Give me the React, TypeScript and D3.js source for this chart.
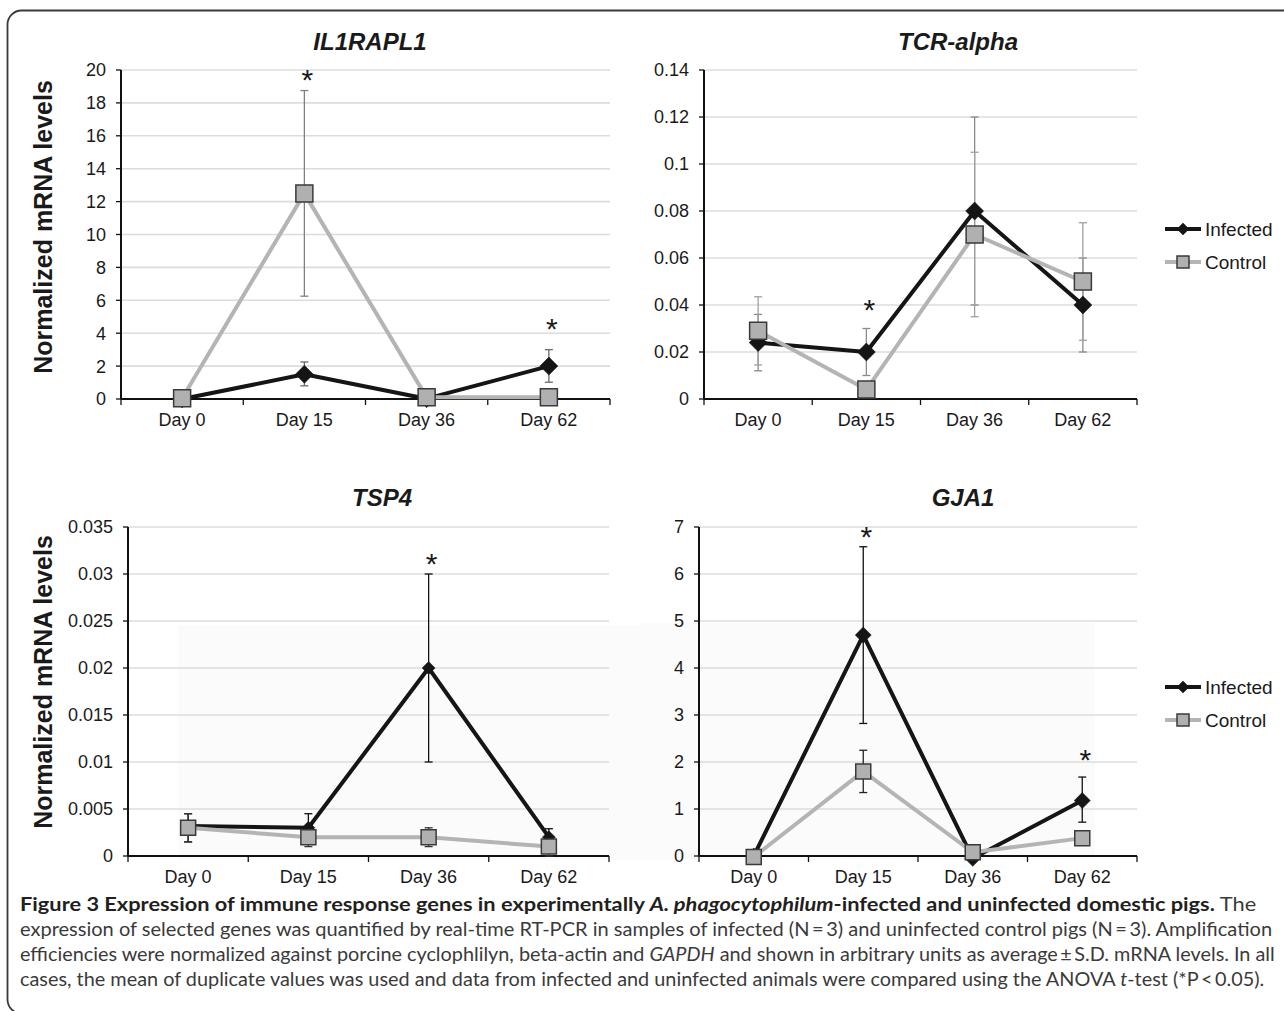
import React, { useLayoutEffect, useRef, useState } from 'react';
import * as d3 from 'd3';

// ---------- data ----------
const days = ['Day 0', 'Day 15', 'Day 36', 'Day 62'];
const seriesNames = ['Infected', 'Control'];

// IL1RAPL1
const il1Infected = [0, 1.5, 0.02, 2.0];
const il1InfectedLo = [0, 0.8, 0.02, 1.02];
const il1InfectedHi = [0, 2.25, 0.02, 3.0];
const il1Control = [0.05, 12.5, 0.1, 0.1];
const il1ControlLo = [0.05, 6.25, 0.1, 0.1];
const il1ControlHi = [0.05, 18.75, 0.1, 0.1];
const il1Stars = [null, 19.8, null, 4.7];
const il1Ticks = [0, 2, 4, 6, 8, 10, 12, 14, 16, 18, 20];
const il1TickLabels = ['0', '2', '4', '6', '8', '10', '12', '14', '16', '18', '20'];

// TCR-alpha
const tcrInfected = [0.024, 0.02, 0.08, 0.04];
const tcrInfectedLo = [0.012, 0.01, 0.04, 0.02];
const tcrInfectedHi = [0.036, 0.03, 0.12, 0.06];
const tcrControl = [0.029, 0.004, 0.07, 0.05];
const tcrControlLo = [0.0145, 0.004, 0.035, 0.025];
const tcrControlHi = [0.0435, 0.004, 0.105, 0.075];
const tcrStars = [null, 0.041, null, null];
const tcrTicks = [0, 0.02, 0.04, 0.06, 0.08, 0.1, 0.12, 0.14];
const tcrTickLabels = ['0', '0.02', '0.04', '0.06', '0.08', '0.1', '0.12', '0.14'];

// TSP4
const tspInfected = [0.0032, 0.003, 0.02, 0.002];
const tspInfectedLo = [0.0015, 0.0015, 0.01, 0.001];
const tspInfectedHi = [0.0045, 0.0045, 0.03, 0.0029];
const tspControl = [0.003, 0.002, 0.002, 0.001];
const tspControlLo = [0.0015, 0.001, 0.001, 0.0];
const tspControlHi = [0.0045, 0.003, 0.003, 0.002];
const tspStars = [null, null, 0.0318, null];
const tspTicks = [0, 0.005, 0.01, 0.015, 0.02, 0.025, 0.03, 0.035];
const tspTickLabels = ['0', '0.005', '0.01', '0.015', '0.02', '0.025', '0.03', '0.035'];

// GJA1
const gjaInfected = [0, 4.7, -0.05, 1.18];
const gjaInfectedLo = [0, 2.82, -0.05, 0.72];
const gjaInfectedHi = [0, 6.58, -0.05, 1.68];
const gjaControl = [-0.02, 1.8, 0.08, 0.38];
const gjaControlLo = [-0.02, 1.35, 0.08, 0.38];
const gjaControlHi = [-0.02, 2.25, 0.08, 0.38];
const gjaStars = [null, 6.94, null, 2.19];
const gjaTicks = [0, 1, 2, 3, 4, 5, 6, 7];
const gjaTickLabels = ['0', '1', '2', '3', '4', '5', '6', '7'];

const yAxisTitle = 'Normalized mRNA levels';

// ---------- layout / style ----------
const FONT = 'Liberation Sans, Arial, Helvetica, sans-serif';
const CAP_FONT = 'Lato, "Open Sans", sans-serif';
const INF_COLOR = '#151515';
const CTRL_LINE = '#b4b4b4';
const CTRL_FILL = '#b0b0b0';
const CTRL_EDGE = '#3a3a3a';

const panels = [
  {
    title: 'IL1RAPL1', x0: 121, x1: 610, yTop: 70, yBot: 399, domain: [0, 20],
    ticks: il1Ticks, tickLabels: il1TickLabels,
    inf: il1Infected, infLo: il1InfectedLo, infHi: il1InfectedHi,
    ctl: il1Control, ctlLo: il1ControlLo, ctlHi: il1ControlHi, stars: il1Stars,
    titleX: 370, titleY: 50, yLabel: true, yLabelY: 227, legend: false,
    sq: 17, di: 18, errInf: '#6a6a6a', errCtl: '#808080', shade: null,
  },
  {
    title: 'TCR-alpha', x0: 704, x1: 1137, yTop: 70, yBot: 399, domain: [0, 0.14],
    ticks: tcrTicks, tickLabels: tcrTickLabels,
    inf: tcrInfected, infLo: tcrInfectedLo, infHi: tcrInfectedHi,
    ctl: tcrControl, ctlLo: tcrControlLo, ctlHi: tcrControlHi, stars: tcrStars,
    titleX: 958, titleY: 50, yLabel: false, yLabelY: 0, legend: true, legendY: 229,
    sq: 17, di: 18, errInf: '#8a8a8a', errCtl: '#a0a0a0', shade: null,
  },
  {
    title: 'TSP4', x0: 128, x1: 609, yTop: 527, yBot: 856, domain: [0, 0.035],
    ticks: tspTicks, tickLabels: tspTickLabels,
    inf: tspInfected, infLo: tspInfectedLo, infHi: tspInfectedHi,
    ctl: tspControl, ctlLo: tspControlLo, ctlHi: tspControlHi, stars: tspStars,
    titleX: 382, titleY: 506, yLabel: true, yLabelY: 682, legend: false,
    sq: 15, di: 13, errInf: '#111111', errCtl: '#333333', shade: [178, 625, 462, 235],
  },
  {
    title: 'GJA1', x0: 699, x1: 1137, yTop: 527, yBot: 856, domain: [0, 7],
    ticks: gjaTicks, tickLabels: gjaTickLabels,
    inf: gjaInfected, infLo: gjaInfectedLo, infHi: gjaInfectedHi,
    ctl: gjaControl, ctlLo: gjaControlLo, ctlHi: gjaControlHi, stars: gjaStars,
    titleX: 963, titleY: 506, yLabel: false, yLabelY: 0, legend: true, legendY: 687,
    sq: 15, di: 16, errInf: '#111111', errCtl: '#222222', shade: [640, 623, 455, 237],
  },
];

function Diamond({ x, y, d, fill }: { x: number; y: number; d: number; fill: string }) {
  const side = d / Math.SQRT2;
  const path = d3.symbol(d3.symbolSquare, side * side)() as string;
  return <path d={path} transform={`translate(${x},${y}) rotate(45)`} fill={fill} stroke={fill} strokeWidth={0.5} />;
}

function Square({ x, y, s }: { x: number; y: number; s: number }) {
  const path = d3.symbol(d3.symbolSquare, s * s)() as string;
  return <path d={path} transform={`translate(${x},${y})`} fill={CTRL_FILL} stroke={CTRL_EDGE} strokeWidth={1.5} />;
}

function Panel({ p }: { p: any }) {
  const x = d3.scaleBand<string>().domain(days).range([p.x0, p.x1]).padding(0);
  const y = d3.scaleLinear().domain(p.domain).range([p.yBot, p.yTop]);
  const cx = (d: string) => (x(d) as number) + x.bandwidth() / 2;
  const line = d3.line<number>().x((_, i) => cx(days[i])).y((v) => y(v));
  const bounds = [...days.map((d) => x(d) as number), p.x1];

  const errBars = (vals: number[], lo: number[], hi: number[], color: string, key: string) =>
    vals.map((_, i) => {
      if (hi[i] - lo[i] <= 0) return null;
      const xc = cx(days[i]);
      return (
        <g key={key + i} stroke={color} strokeWidth={1.3}>
          <line x1={xc} x2={xc} y1={y(lo[i])} y2={y(hi[i])} />
          <line x1={xc - 4} x2={xc + 4} y1={y(lo[i])} y2={y(lo[i])} />
          <line x1={xc - 4} x2={xc + 4} y1={y(hi[i])} y2={y(hi[i])} />
        </g>
      );
    });

  return (
    <g>
      {p.shade && <rect x={p.shade[0]} y={p.shade[1]} width={p.shade[2]} height={p.shade[3]} fill="#fbfbfb" />}
      {p.ticks.map((t: number, i: number) =>
        i === 0 ? null : (
          <line key={'g' + i} x1={p.x0} x2={p.x1} y1={y(t)} y2={y(t)} stroke="#dcdcdc" strokeWidth={1.6} />
        )
      )}
      {p.ticks.map((t: number, i: number) => (
        <g key={'t' + i}>
          <line x1={p.x0 - 5} x2={p.x0} y1={y(t)} y2={y(t)} stroke="#111" strokeWidth={1.3} />
          <text x={p.x0 - 15} y={y(t)} dy="0.36em" textAnchor="end" fontFamily={FONT} fontSize={18} fill="#1a1a1a">
            {p.tickLabels[i]}
          </text>
        </g>
      ))}
      <line x1={p.x0} x2={p.x0} y1={p.yTop} y2={p.yBot} stroke="#111" strokeWidth={2} />
      <line x1={p.x0} x2={p.x1} y1={p.yBot} y2={p.yBot} stroke="#111" strokeWidth={2.2} />
      {bounds.map((b: number, i: number) => (
        <line key={'b' + i} x1={b} x2={b} y1={p.yBot} y2={p.yBot + 6} stroke="#111" strokeWidth={1.3} />
      ))}
      {days.map((d) => (
        <text key={d} x={cx(d)} y={p.yBot + 27} textAnchor="middle" fontFamily={FONT} fontSize={18} fill="#1a1a1a">
          {d}
        </text>
      ))}
      {errBars(p.inf, p.infLo, p.infHi, p.errInf, 'ei')}
      {errBars(p.ctl, p.ctlLo, p.ctlHi, p.errCtl, 'ec')}
      <path d={line(p.inf) as string} fill="none" stroke={INF_COLOR} strokeWidth={4} strokeLinejoin="round" />
      {p.inf.map((v: number, i: number) => (
        <Diamond key={'di' + i} x={cx(days[i])} y={y(v)} d={p.di} fill={INF_COLOR} />
      ))}
      <path d={line(p.ctl) as string} fill="none" stroke={CTRL_LINE} strokeWidth={4} strokeLinejoin="round" />
      {p.ctl.map((v: number, i: number) => (
        <Square key={'sq' + i} x={cx(days[i])} y={y(v)} s={p.sq} />
      ))}
      {p.stars.map((s: number | null, i: number) =>
        s === null ? null : (
          <text key={'s' + i} x={cx(days[i]) + 3} y={y(s) + 17} textAnchor="middle" fontFamily={FONT} fontSize={30} fill="#1a1a1a">
            *
          </text>
        )
      )}
      <text x={p.titleX} y={p.titleY} textAnchor="middle" fontFamily={FONT} fontWeight="bold" fontStyle="italic" fontSize={24} fill="#1a1a1a">
        {p.title}
      </text>
      {p.yLabel && (
        <text transform={`translate(52,${p.yLabelY}) rotate(-90)`} textAnchor="middle" fontFamily={FONT} fontWeight="bold" fontSize={25} fill="#1a1a1a">
          {yAxisTitle}
        </text>
      )}
      {p.legend && (
        <g>
          <line x1={1165} x2={1201} y1={p.legendY} y2={p.legendY} stroke={INF_COLOR} strokeWidth={4} />
          <Diamond x={1183} y={p.legendY} d={12} fill={INF_COLOR} />
          <text x={1205} y={p.legendY} dy="0.36em" fontFamily={FONT} fontSize={19} fill="#1a1a1a">{seriesNames[0]}</text>
          <line x1={1165} x2={1201} y1={p.legendY + 33} y2={p.legendY + 33} stroke={CTRL_LINE} strokeWidth={4} />
          <Square x={1183} y={p.legendY + 33} s={12} />
          <text x={1205} y={p.legendY + 33} dy="0.36em" fontFamily={FONT} fontSize={19} fill="#1a1a1a">{seriesNames[1]}</text>
        </g>
      )}
    </g>
  );
}

// Caption lines: target right edge and baseline for each
const captionTargets = [
  { y: 911, right: 1257 },
  { y: 936, right: 1273 },
  { y: 961, right: 1276 },
  { y: 986, right: 1265 },
];

function CaptionLine({ idx, children }: { idx: number; children: React.ReactNode }) {
  const ref = useRef<SVGTextElement>(null);
  const [k, setK] = useState(1);
  const t = captionTargets[idx];
  useLayoutEffect(() => {
    if (ref.current) {
      const w = ref.current.getBBox().width;
      if (w > 0) setK((t.right - 20) / w);
    }
  }, []);
  return (
    <text ref={ref} x={20} y={t.y} transform={`translate(20,0) scale(${k},1) translate(-20,0)`} fill="#3a3a3a">
      {children}
    </text>
  );
}

export default function App() {
  return (
    <svg width={1284} height={1011} style={{ position: 'absolute', left: 0, top: 0, background: '#fff' }}>
      <rect x={0} y={0} width={1284} height={1011} fill="#fff" />
      <rect x={7.5} y={10.5} width={1300} height={1003} rx={14} ry={14} fill="none" stroke="#3a3a3a" strokeWidth={1.8} />
      {panels.map((p) => (
        <Panel key={p.title} p={p} />
      ))}
      <g fontFamily={CAP_FONT} fontSize={19}>
        <CaptionLine idx={0}>
          <tspan fontWeight="bold" fill="#231f20">Figure 3 Expression of immune response genes in experimentally </tspan>
          <tspan fontWeight="bold" fontStyle="italic" fill="#231f20">A. phagocytophilum</tspan>
          <tspan fontWeight="bold" fill="#231f20">-infected and uninfected domestic pigs.</tspan>
          <tspan> The</tspan>
        </CaptionLine>
        <CaptionLine idx={1}>
          expression of selected genes was quantified by real-time RT-PCR in samples of infected (N{'\u2009'}={'\u2009'}3) and uninfected control pigs (N{'\u2009'}={'\u2009'}3). Amplification
        </CaptionLine>
        <CaptionLine idx={2}>
          <tspan>efficiencies were normalized against porcine cyclophlilyn, beta-actin and </tspan>
          <tspan fontStyle="italic">GAPDH</tspan>
          <tspan> and shown in arbitrary units as average{'\u2009'}±{'\u2009'}S.D. mRNA levels. In all</tspan>
        </CaptionLine>
        <CaptionLine idx={3}>
          <tspan>cases, the mean of duplicate values was used and data from infected and uninfected animals were compared using the ANOVA </tspan>
          <tspan fontStyle="italic">t</tspan>
          <tspan>-test (*P{'\u2009'}&lt;{'\u2009'}0.05).</tspan>
        </CaptionLine>
      </g>
    </svg>
  );
}
